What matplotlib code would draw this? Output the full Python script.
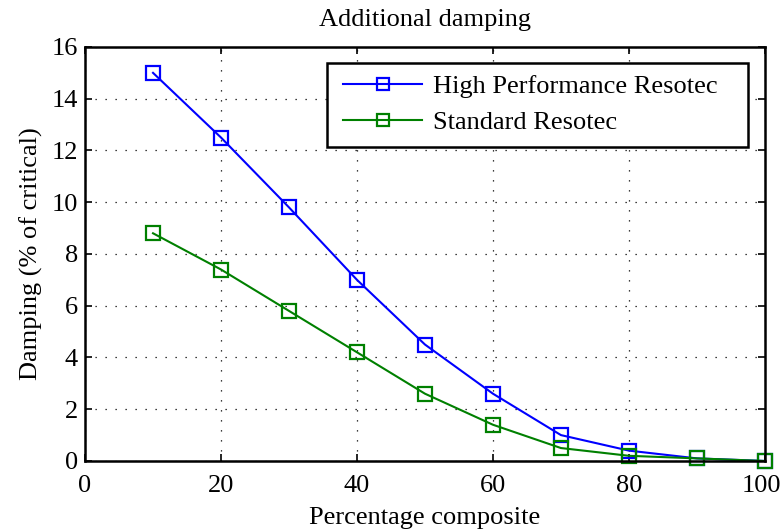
import numpy as np
import matplotlib.pyplot as plt
import matplotlib.transforms as mtransforms
from matplotlib.patches import Rectangle

plt.rcParams['font.family'] = ['Liberation Serif', 'DejaVu Serif']

composite = [10, 20, 30, 40, 50, 60, 70, 80, 90, 100]
high_perf = [15.0, 12.5, 9.8, 7.0, 4.5, 2.6, 1.0, 0.4, 0.1, 0.0]
standard = [8.8, 7.4, 5.8, 4.2, 2.6, 1.4, 0.5, 0.2, 0.1, 0.0]

fig = plt.figure(figsize=(7.83, 5.32), dpi=100)
ax = fig.add_axes([0.1086, 0.1335, 0.8683, 0.7782])

ax.plot(composite, high_perf, color='#0000ff', marker='s', markersize=9.5,
        markerfacecolor='none', markeredgewidth=1.6, linewidth=1.5,
        label='High Performance Resotec', clip_on=False)
ax.plot(composite, standard, color='#008000', marker='s', markersize=9.5,
        markerfacecolor='none', markeredgewidth=1.6, linewidth=1.5,
        label='Standard Resotec', clip_on=False)

ax.set_xlim(0, 100)
ax.set_ylim(0, 16)
ax.set_xticks(np.arange(0, 101, 20))
ax.set_yticks(np.arange(0, 17, 2))
ax.tick_params(direction='in', top=True, right=True, labelsize=19, length=5,
               width=1.2)
ax.tick_params(axis='y', pad=5)
ax.tick_params(axis='x', pad=10)
for s in ax.spines.values():
    s.set_linewidth(1.8)
ax.grid(True, linestyle=(0, (1, 7)), color='black', linewidth=0.9)

# keep the "100" label inside the figure edge
last = ax.get_xticklabels()[-1]
last.set_transform(last.get_transform() +
                   mtransforms.ScaledTranslation(-3 / 100, 0, fig.dpi_scale_trans))

ax.set_xlabel('Percentage composite', fontsize=19, labelpad=7)
ax.set_ylabel('Damping (% of critical)', fontsize=19, labelpad=6)
ax.set_title('Additional damping', fontsize=19, pad=15)

# MATLAB-style legend: wide frame drawn separately
frame = Rectangle((0.356, 0.758), 0.619, 0.203, transform=ax.transAxes,
                  facecolor='white', edgecolor='black', linewidth=1.8, zorder=4)
ax.add_patch(frame)
leg = ax.legend(loc='upper left', fontsize=19, frameon=False,
                borderpad=0.45, handlelength=3.0, handletextpad=0.4,
                labelspacing=0.45, borderaxespad=0, markerscale=0.9,
                bbox_to_anchor=(0.362, 0.961))
leg.set_zorder(5)

fig.savefig('out.png', dpi=100)
